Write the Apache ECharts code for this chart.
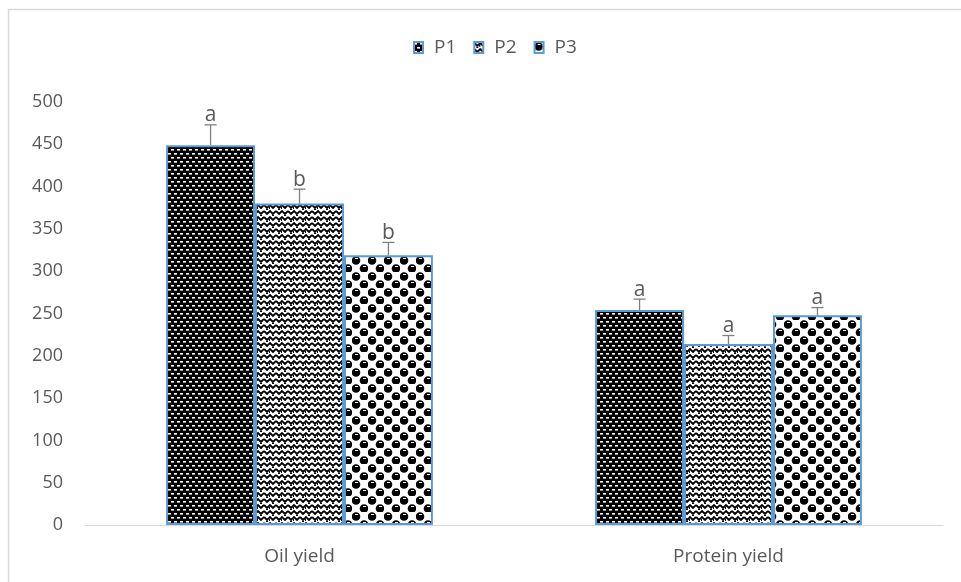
<!DOCTYPE html>
<html>
<head>
<meta charset="utf-8">
<script src="https://cdn.jsdelivr.net/npm/echarts@6/dist/echarts.min.js"></script>
<style>
  html, body { margin: 0; padding: 0; background: #fff; }
  #chart { width: 961px; height: 582px; }
</style>
</head>
<body>
<div id="chart"></div>
<script>
// Yield data per treatment
const categories = ['Oil yield', 'Protein yield'];
const seriesNames = ['P1', 'P2', 'P3'];
const p1Values = [449, 254];
const p2Values = [380, 214];
const p3Values = [319, 248];
const p1Errors = [24, 13];
const p2Errors = [17, 10];
const p3Errors = [15, 9];
const p1Letters = ['a', 'a'];
const p2Letters = ['b', 'a'];
const p3Letters = ['b', 'a'];
const yTicks = [0, 50, 100, 150, 200, 250, 300, 350, 400, 450, 500];

const TEXT = '#595959';
const OUTLINE = '#5B9BD5';
const FONT = 'Open Sans';

// Fill patterns drawn on small tiles
function tile(w, h, draw) {
  const c = document.createElement('canvas');
  c.width = w; c.height = h;
  const ctx = c.getContext('2d');
  draw(ctx, w, h);
  return { image: c, repeat: 'repeat' };
}
const patternP1 = tile(6, 8, (ctx) => {
  ctx.fillStyle = '#000'; ctx.fillRect(0, 0, 6, 8);
  ctx.fillStyle = '#fff';
  ctx.fillRect(0, 1, 3, 1);
  ctx.fillRect(3, 5, 3, 1);
  ctx.fillStyle = '#999';
  ctx.fillRect(0, 2, 3, 1);
  ctx.fillRect(3, 6, 3, 1);
});
const patternP2 = tile(12, 12, (ctx) => {
  ctx.fillStyle = '#fff'; ctx.fillRect(0, 0, 12, 12);
  ctx.strokeStyle = '#000'; ctx.lineWidth = 1.8;
  ctx.beginPath();
  ctx.moveTo(0, 1); ctx.lineTo(3, 4); ctx.lineTo(6, 1); ctx.lineTo(9, 4); ctx.lineTo(12, 1);
  ctx.moveTo(0, 7); ctx.lineTo(3, 10); ctx.lineTo(6, 7); ctx.lineTo(9, 10); ctx.lineTo(12, 7);
  ctx.stroke();
  ctx.fillStyle = '#000';
  ctx.fillRect(2, 5, 2, 1);
  ctx.fillRect(8, 11, 2, 1);
  ctx.fillRect(5, 3, 1, 2);
});
const patternP3 = tile(16, 16, (ctx) => {
  ctx.fillStyle = '#fff'; ctx.fillRect(0, 0, 16, 16);
  ctx.fillStyle = '#000';
  ctx.beginPath(); ctx.arc(4, 4.5, 4.3, 0, Math.PI * 2); ctx.fill();
  ctx.beginPath(); ctx.arc(12, 12.5, 4.3, 0, Math.PI * 2); ctx.fill();
  ctx.fillStyle = '#fff';
  ctx.fillRect(3, 2, 3, 1);
  ctx.fillRect(11, 10, 3, 1);
});
const patterns = [patternP1, patternP2, patternP3];

const valueSets = [p1Values, p2Values, p3Values];
const errorSets = [p1Errors, p2Errors, p3Errors];
const letterSets = [p1Letters, p2Letters, p3Letters];
const CATEGORY_GAP = 0.378;

const barSeries = seriesNames.map((name, i) => ({
  name: name,
  type: 'bar',
  data: valueSets[i],
  barGap: '0%',
  barCategoryGap: (CATEGORY_GAP * 100) + '%',
  itemStyle: { color: patterns[i], borderColor: OUTLINE, borderWidth: 2 },
  emphasis: { disabled: true },
  z: 2
}));

// Error bars with significance letters
const errorData = [];
seriesNames.forEach((name, i) => {
  categories.forEach((cat, j) => {
    errorData.push([j, valueSets[i][j], errorSets[i][j], i, letterSets[i][j]]);
  });
});

const errorSeries = {
  type: 'custom',
  name: 'errors',
  data: errorData,
  z: 5,
  silent: true,
  renderItem: function (params, api) {
    const cat = api.value(0);
    const val = api.value(1);
    const err = api.value(2);
    const idx = api.value(3);
    const letter = errorData[params.dataIndex][4];
    const band = api.size([1, 0])[0];
    const barW = band * (1 - CATEGORY_GAP) / 3;
    const base = api.coord([cat, val]);
    const top = api.coord([cat, val + err]);
    const x = base[0] + (idx - 1) * barW;
    const capHalf = 6;
    const stroke = { stroke: '#7f7f7f', lineWidth: 1.3 };
    return {
      type: 'group',
      children: [
        { type: 'line', shape: { x1: x, y1: base[1], x2: x, y2: top[1] }, style: stroke },
        { type: 'line', shape: { x1: x - capHalf, y1: top[1], x2: x + capHalf, y2: top[1] }, style: stroke },
        {
          type: 'text',
          style: {
            text: letter, x: x, y: top[1] + 1,
            textAlign: 'center', textVerticalAlign: 'bottom',
            fill: TEXT, font: '21px ' + FONT
          }
        }
      ]
    };
  }
};

const chart = echarts.init(document.getElementById('chart'), null, { renderer: 'canvas' });
chart.setOption({
  animation: false,
  backgroundColor: '#fff',
  graphic: [{
    type: 'rect',
    shape: { x: 8.5, y: 9.5, width: 980, height: 600 },
    style: { fill: 'none', stroke: '#d9d9d9', lineWidth: 1.5 },
    silent: true, z: -1
  }],
  legend: {
    data: seriesNames,
    top: 33,
    left: 408,
    itemWidth: 9,
    itemHeight: 11,
    itemGap: 17,
    icon: 'rect',
    textStyle: { color: TEXT, fontSize: 19, fontFamily: FONT, padding: [0, 0, 0, 6] }
  },
  grid: { left: 85, right: 18, top: 102, bottom: 57 },
  xAxis: {
    type: 'category',
    data: categories,
    axisLine: { lineStyle: { color: '#d9d9d9', width: 1 } },
    axisTick: { show: false },
    axisLabel: { color: TEXT, fontSize: 19, fontFamily: FONT, margin: 22 }
  },
  yAxis: {
    type: 'value',
    min: yTicks[0],
    max: yTicks[yTicks.length - 1],
    interval: yTicks[1] - yTicks[0],
    splitLine: { show: false },
    axisLine: { show: false },
    axisTick: { show: false },
    axisLabel: { color: TEXT, fontSize: 18, fontFamily: FONT, margin: 22 }
  },
  series: [...barSeries, errorSeries]
});
</script>
</body>
</html>
